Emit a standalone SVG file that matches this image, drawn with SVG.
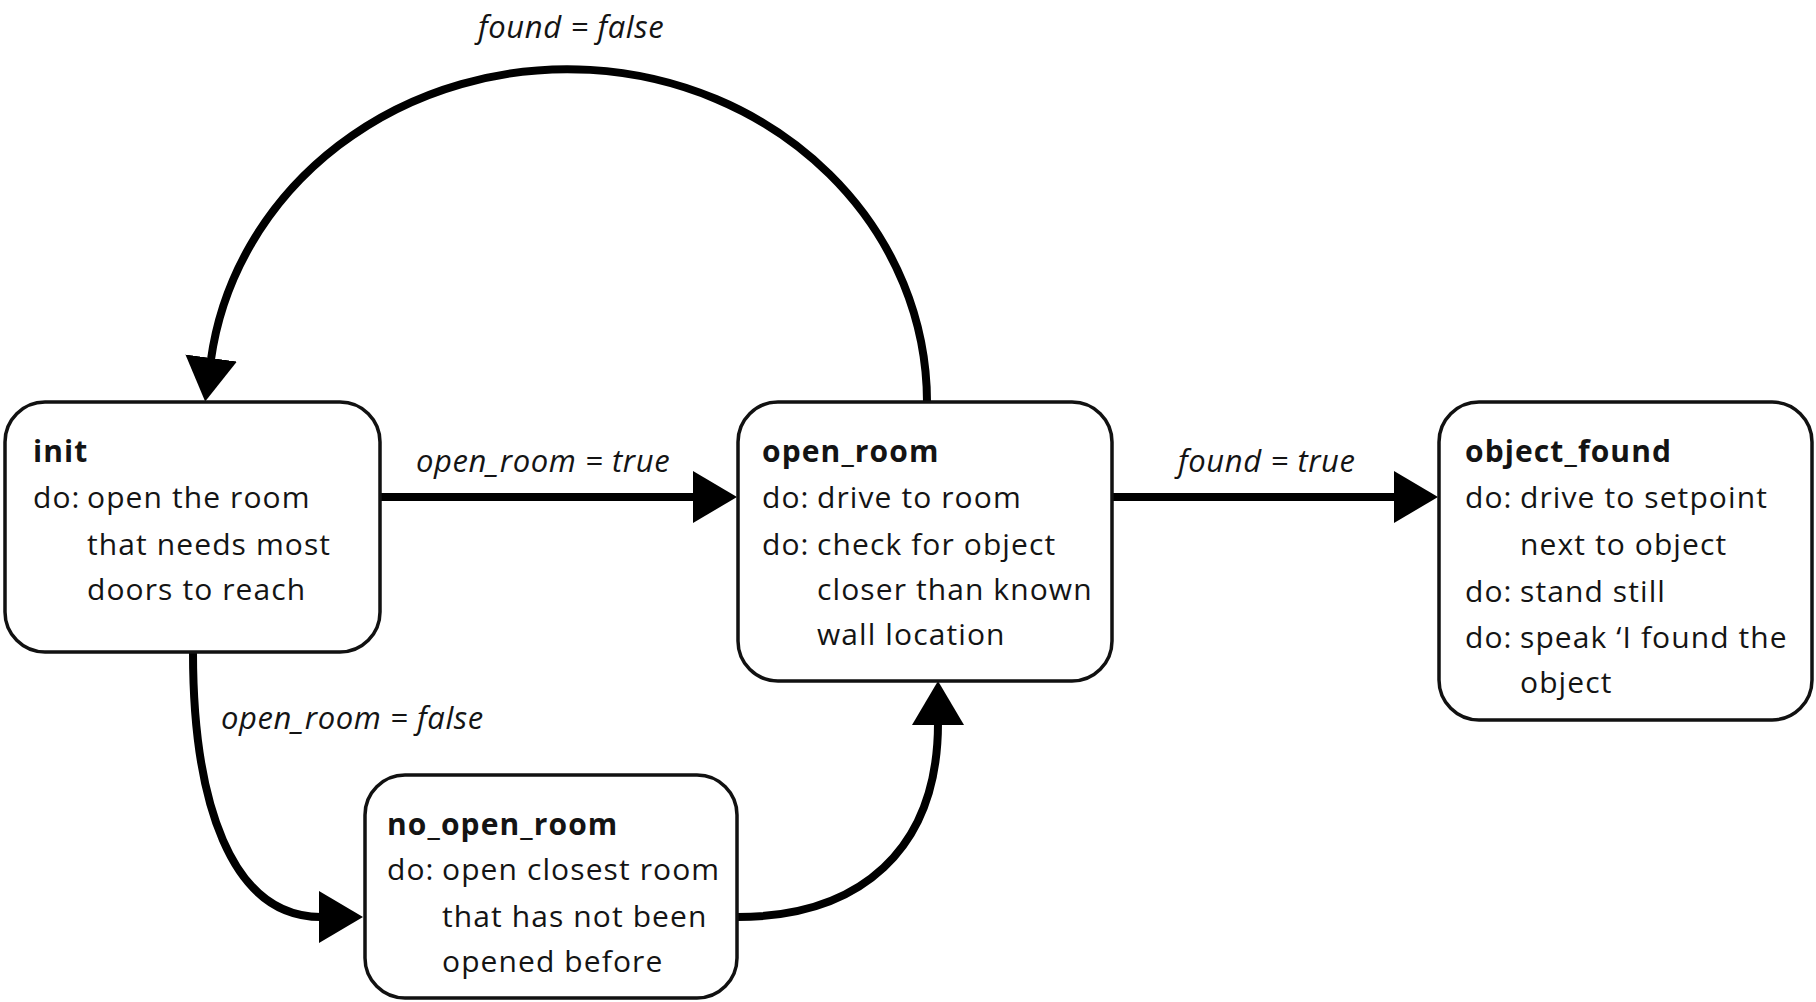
<svg xmlns="http://www.w3.org/2000/svg" width="1816" height="1002" viewBox="0 0 1816 1002">
<style>
.box{fill:#fff;stroke:#111;stroke-width:3.5}
.t{font-family:"Open Sans","Noto Sans","Liberation Sans",sans-serif;font-size:30px;fill:#141414;letter-spacing:1.1px}
.b{font-weight:bold}
.lab{font-family:"Open Sans","Noto Sans","Liberation Sans",sans-serif;font-size:31px;font-style:italic;fill:#141414;letter-spacing:0.6px}
.edge{fill:none;stroke:#000;stroke-width:8}
</style>
<defs>
<marker id="ah" markerUnits="userSpaceOnUse" markerWidth="44" markerHeight="52" viewBox="0 0 44 52" refX="2" refY="26" orient="auto">
<path d="M0,0 L44,26 L0,52 z" fill="#000"/>
</marker>
</defs>
<g id="connectors">
<path class="edge" d="M380,497 L695,497" marker-end="url(#ah)"/>
<path class="edge" d="M1112,497 L1396,497" marker-end="url(#ah)"/>
<path class="edge" d="M927,402 A359.5,333 0 0,0 210.9,360" marker-end="url(#ah)"/>
<path class="edge" d="M193,652 C193,800 230,917 321,917" marker-end="url(#ah)"/>
<path class="edge" d="M737,917 C860,917 938,850 938,723" marker-end="url(#ah)"/>
<text class="lab" x="416" y="472">open_room = true</text>
<text class="lab" x="1178" y="472">found = true</text>
<text class="lab" x="478" y="38">found = false</text>
<text class="lab" x="221" y="729">open_room = false</text>
</g>
<g id="init">
<rect class="box" x="5" y="402" width="375" height="250" rx="40"/>
<text class="t b" x="33" y="462">init</text>
<text class="t" x="33" y="508">do:</text>
<text class="t" x="87" y="508">open the room</text>
<text class="t" x="87" y="555">that needs most</text>
<text class="t" x="87" y="600">doors to reach</text>
</g>
<g id="open_room">
<rect class="box" x="738" y="402" width="374" height="279" rx="40"/>
<text class="t b" x="762" y="462">open_room</text>
<text class="t" x="762" y="508">do:</text>
<text class="t" x="817" y="508">drive to room</text>
<text class="t" x="762" y="555">do:</text>
<text class="t" x="817" y="555">check for object</text>
<text class="t" x="817" y="600">closer than known</text>
<text class="t" x="817" y="645">wall location</text>
</g>
<g id="object_found">
<rect class="box" x="1439" y="402" width="373" height="318" rx="40"/>
<text class="t b" x="1465" y="462">object_found</text>
<text class="t" x="1465" y="508">do:</text>
<text class="t" x="1520" y="508">drive to setpoint</text>
<text class="t" x="1520" y="555">next to object</text>
<text class="t" x="1465" y="602">do:</text>
<text class="t" x="1520" y="602">stand still</text>
<text class="t" x="1465" y="648">do:</text>
<text class="t" x="1520" y="648">speak ‘I found the</text>
<text class="t" x="1520" y="693">object</text>
</g>
<g id="no_open_room">
<rect class="box" x="365" y="775" width="372" height="223" rx="40"/>
<text class="t b" x="387" y="835">no_open_room</text>
<text class="t" x="387" y="880">do:</text>
<text class="t" x="442" y="880">open closest room</text>
<text class="t" x="442" y="927">that has not been</text>
<text class="t" x="442" y="972">opened before</text>
</g>
</svg>
